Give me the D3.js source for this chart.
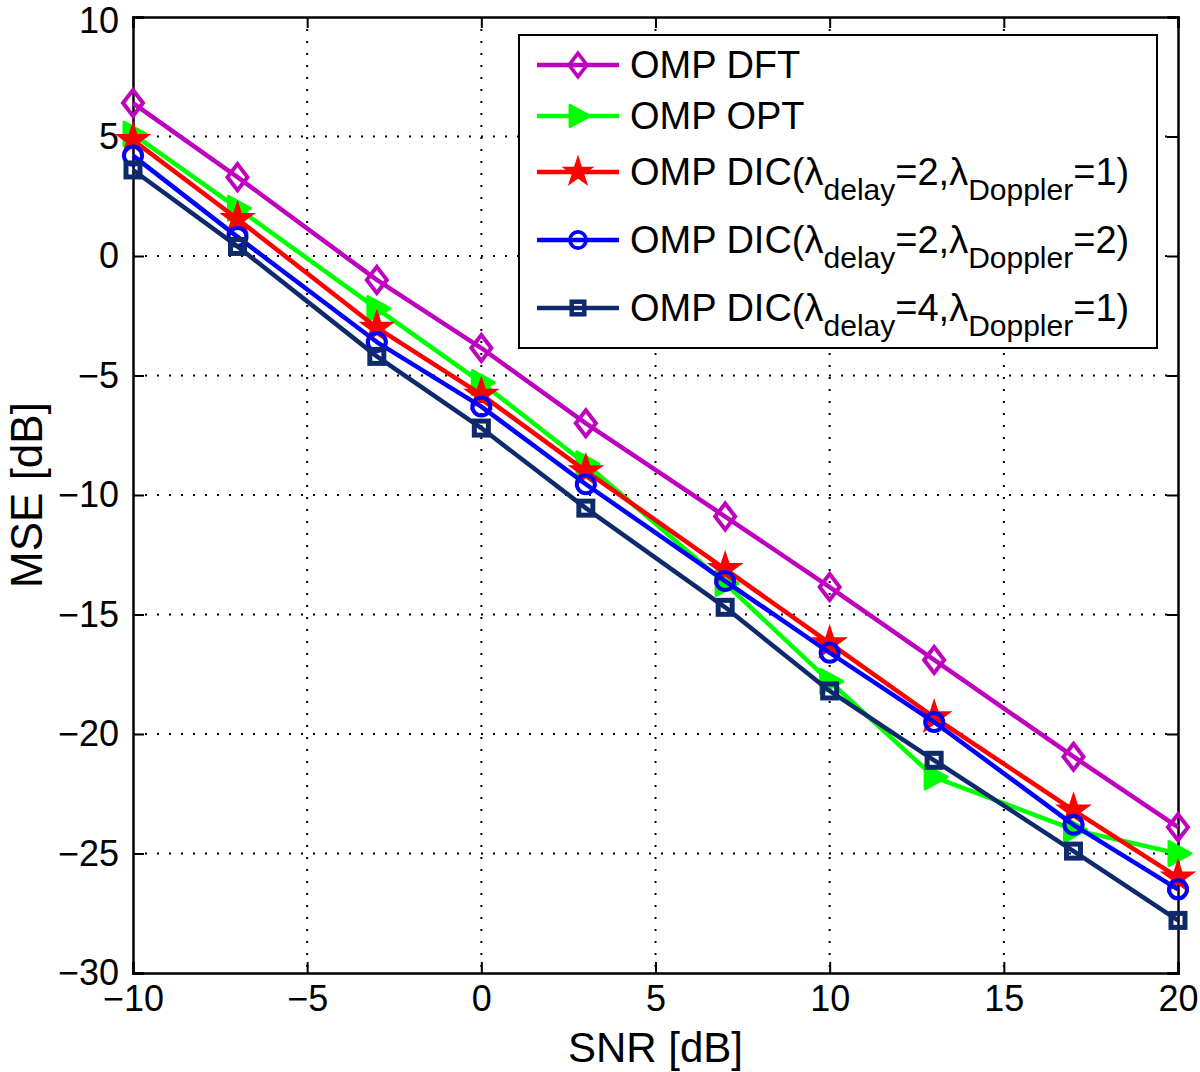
<!DOCTYPE html>
<html>
<head>
<meta charset="utf-8">
<script src="https://cdn.jsdelivr.net/npm/d3@7"></script>
<style>
  body { margin: 0; background: #fff; }
  text { font-family: "Liberation Sans", Arial, Helvetica, sans-serif; fill: #000; }
</style>
</head>
<body>
<script>
// data
const snr = [-10, -7, -3, 0, 3, 7, 10, 13, 17, 20]
const mseDft = [6.4, 3.3, -1.0, -3.85, -7.0, -10.9, -13.85, -16.9, -20.95, -23.9]
const mseOpt = [5.1, 2.0, -2.2, -5.3, -8.7, -13.7, -17.8, -21.8, -24.0, -25.0]
const mseDic21 = [4.85, 1.55, -3.0, -5.8, -9.0, -13.1, -16.2, -19.3, -23.2, -26.0]
const mseDic22 = [4.2, 0.8, -3.6, -6.3, -9.55, -13.6, -16.6, -19.5, -23.8, -26.5]
const mseDic41 = [3.6, 0.4, -4.2, -7.2, -10.55, -14.7, -18.2, -21.1, -24.9, -27.8]
const xTicks = [-10, -5, 0, 5, 10, 15, 20]
const yTicks = [10, 5, 0, -5, -10, -15, -20, -25, -30]

const series = [
  { name: "OMP DFT", values: mseDft, color: "#bf00bf", marker: "diamond" },
  { name: "OMP OPT", values: mseOpt, color: "#00ff00", marker: "triangle" },
  { name: "dic", d: "2", p: "1", values: mseDic21, color: "#ff0000", marker: "star" },
  { name: "dic", d: "2", p: "2", values: mseDic22, color: "#0000ff", marker: "circle" },
  { name: "dic", d: "4", p: "1", values: mseDic41, color: "#0f2a6c", marker: "square" }
]

const W = 1200, H = 1072
const pLeft = 133, pRight = 1178, pTop = 17, pBottom = 973

const svg = d3.select("body").append("svg")
  .attr("width", W).attr("height", H)

svg.append("rect").attr("width", W).attr("height", H).attr("fill", "#fff")

const x = d3.scaleLinear().domain([-10, 20]).range([pLeft, pRight])
const y = d3.scaleLinear().domain([-30, 10]).range([pBottom, pTop])

const fmt = d => (d < 0 ? "\u2212" + Math.abs(d) : "" + d)

// grid
const grid = svg.append("g")
grid.selectAll(".gx").data(xTicks.slice(1, -1)).enter().append("line")
  .attr("x1", d => x(d)).attr("x2", d => x(d))
  .attr("y1", pTop).attr("y2", pBottom)
  .attr("stroke", "#000").attr("stroke-width", 2).attr("stroke-dasharray", "2,10")
grid.selectAll(".gy").data(yTicks.slice(1, -1)).enter().append("line")
  .attr("y1", d => y(d)).attr("y2", d => y(d))
  .attr("x1", pLeft).attr("x2", pRight)
  .attr("stroke", "#000").attr("stroke-width", 2).attr("stroke-dasharray", "2,10")

// axes: ticks inside, all four sides
const tickLen = 11
const axB = svg.append("g").attr("transform", `translate(0,${pBottom})`)
  .call(d3.axisBottom(x).tickValues(xTicks).tickSize(-tickLen).tickPadding(12).tickFormat(fmt))
const axT = svg.append("g").attr("transform", `translate(0,${pTop})`)
  .call(d3.axisTop(x).tickValues(xTicks).tickSize(-tickLen).tickFormat(""))
const axL = svg.append("g").attr("transform", `translate(${pLeft},0)`)
  .call(d3.axisLeft(y).tickValues(yTicks).tickSize(-tickLen).tickPadding(14).tickFormat(fmt))
const axR = svg.append("g").attr("transform", `translate(${pRight},0)`)
  .call(d3.axisRight(y).tickValues(yTicks).tickSize(-tickLen).tickFormat(""))

;[axB, axT, axL, axR].forEach(a => {
  a.select(".domain").attr("stroke", "#000").attr("stroke-width", 2.5)
  a.selectAll(".tick line").attr("stroke", "#000").attr("stroke-width", 2)
  a.selectAll("text").attr("font-size", 36).attr("fill", "#000")
    .style("font-family", "'Liberation Sans', Arial, sans-serif")
})
// the top "10" label sits right at the edge in the original, nudge it down a touch
axL.selectAll(".tick text").filter(d => d === 10).attr("dy", "0.36em").attr("y", null)
  .attr("transform", "translate(0,3)")

// axis labels
svg.append("text").attr("x", (pLeft + pRight) / 2).attr("y", 1062)
  .attr("text-anchor", "middle").attr("font-size", 42).text("SNR [dB]")
svg.append("text").attr("transform", `translate(42,${(pTop + pBottom) / 2}) rotate(-90)`)
  .attr("text-anchor", "middle").attr("font-size", 44).text("MSE [dB]")

// markers
function drawMarker(g, type, color) {
  if (type === "diamond") {
    g.append("path").attr("d", "M0,-13L10,0L0,13L-10,0Z")
      .attr("fill", "none").attr("stroke", color).attr("stroke-width", 4)
  } else if (type === "triangle") {
    g.append("path").attr("d", "M13,0L-9,-12L-9,12Z")
      .attr("fill", color).attr("stroke", color).attr("stroke-width", 3).attr("stroke-linejoin", "round")
  } else if (type === "star") {
    g.append("path").attr("d", d3.symbol(d3.symbolStar, 290)())
      .attr("fill", color).attr("stroke", color).attr("stroke-width", 2)
  } else if (type === "circle") {
    g.append("circle").attr("r", 9)
      .attr("fill", "none").attr("stroke", color).attr("stroke-width", 4)
  } else if (type === "square") {
    g.append("rect").attr("x", -7).attr("y", -7).attr("width", 14).attr("height", 14)
      .attr("fill", "none").attr("stroke", color).attr("stroke-width", 5)
  }
}

const line = d3.line().x(d => x(d[0])).y(d => y(d[1]))

series.forEach(s => {
  const pts = snr.map((v, i) => [v, s.values[i]])
  svg.append("path").datum(pts).attr("d", line)
    .attr("fill", "none").attr("stroke", s.color).attr("stroke-width", 4.5)
    .attr("stroke-linejoin", "round")
  pts.forEach(p => {
    drawMarker(svg.append("g").attr("transform", `translate(${x(p[0])},${y(p[1])})`), s.marker, s.color)
  })
})

// legend
const lg = svg.append("g")
lg.append("rect").attr("x", 519).attr("y", 35).attr("width", 638).attr("height", 313)
  .attr("fill", "#fff").attr("stroke", "#000").attr("stroke-width", 2)
const rowY = [65, 116, 172, 240, 308]
series.forEach((s, i) => {
  const ry = rowY[i]
  lg.append("line").attr("x1", 537).attr("x2", 619).attr("y1", ry).attr("y2", ry)
    .attr("stroke", s.color).attr("stroke-width", 4.5)
  drawMarker(lg.append("g").attr("transform", `translate(578,${ry}) scale(0.9)`), s.marker, s.color)
  const t = lg.append("text").attr("x", 630).attr("y", ry + 13).attr("font-size", 38)
  if (s.name !== "dic") {
    t.text(s.name)
  } else {
    t.append("tspan").text("OMP DIC(\u03bb")
    t.append("tspan").attr("font-size", 30).attr("dy", 15).text("delay")
    t.append("tspan").attr("dy", -15).text("=" + s.d + ",\u03bb")
    t.append("tspan").attr("font-size", 30).attr("dy", 15).text("Doppler")
    t.append("tspan").attr("dy", -15).text("=" + s.p + ")")
  }
})
</script>
</body>
</html>
